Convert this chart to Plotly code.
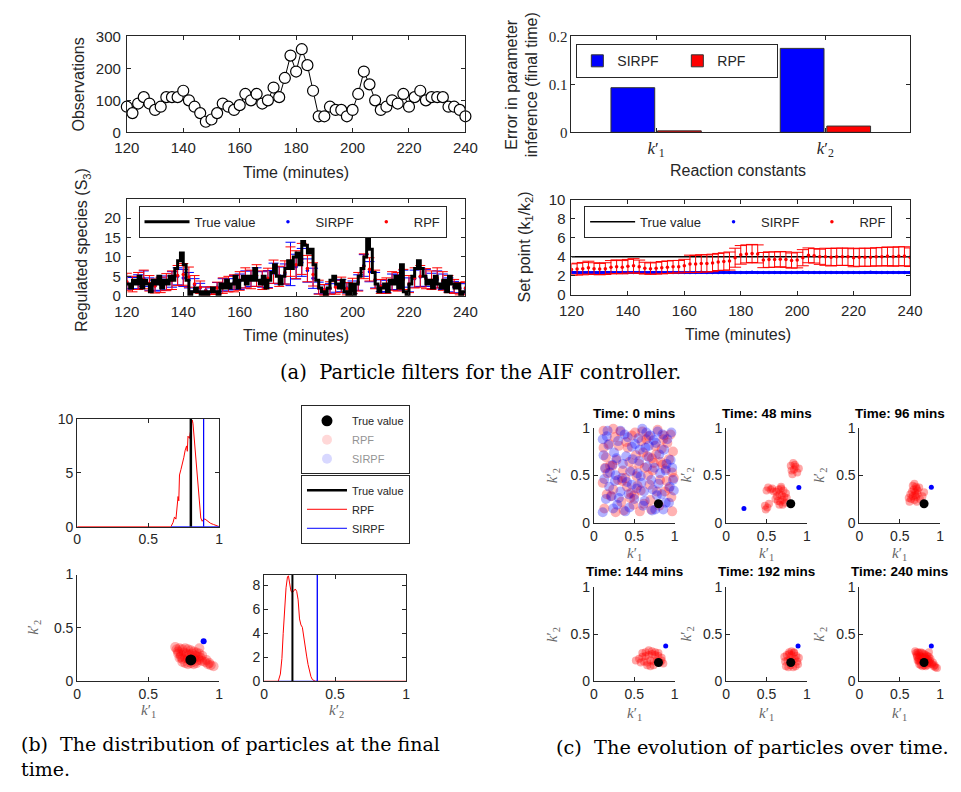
import plotly.graph_objects as go

W, H = 961, 792
AX = '#262626'
SANS = 'Liberation Sans, Arial, sans-serif'
SERIF = 'Liberation Serif, Times New Roman, serif'
CAPF = 'DejaVu Serif, serif'
BLUE = '#0000ff'
RED = '#ff0000'

# ---------------- (a) observations ----------------
obs_time = list(range(120, 241, 2))
observations = [80, 60, 90, 110, 90, 70, 80, 110, 110, 110,
                130, 100, 80, 60, 33, 40, 60, 90, 80, 70,
                85, 120, 100, 120, 90, 100, 140, 110, 170, 240,
                190, 260, 210, 130, 50, 50, 80, 70, 70, 50,
                70, 120, 190, 150, 100, 70, 80, 100, 90, 120,
                80, 110, 130, 100, 110, 110, 110, 80, 80, 70,
                50]

# ---------------- (a) parameter error bars ----------------
param_pos = [1, 2]
param_labels = ['<i>k</i>′<sub>1</sub>', '<i>k</i>′<sub>2</sub>']
err_sirpf = [0.093, 0.175]
err_rpf = [0.003, 0.013]

# ---------------- (a) regulated species ----------------
true_time = list(range(120, 241))
true_S3 = [3, 2, 4, 3, 5, 2, 4, 3, 1, 4,
           3, 5, 2, 4, 3, 5, 4, 7, 9, 11,
           8, 4, 0, 1, 2, 1, 0, 1, 0, 1,
           2, 1, 0, 3, 2, 4, 2, 3, 5, 2,
           4, 5, 3, 5, 4, 7, 4, 3, 5, 2,
           4, 6, 8, 5, 3, 5, 7, 9, 7, 10,
           11, 8, 14, 13, 11, 12, 8, 4, 2, 1,
           0, 2, 4, 5, 3, 2, 4, 1, 0, 3,
           0, 3, 5, 7, 10, 15, 12, 6, 3, 1,
           2, 3, 1, 4, 3, 5, 2, 8, 1, 0,
           3, 5, 7, 9, 7, 5, 3, 4, 2, 5,
           3, 2, 4, 1, 5, 3, 2, 3, 0, 1,
           1]
rpf_S3_mean = [3.6, 3.0, 3.8, 4.2, 3.2, 2.5, 2.8, 3.5, 4.0, 5.2,
               5.5, 4.8, 3.0, 2.2, 1.2, 1.3, 2.0, 2.6, 3.0, 3.2,
               3.8, 4.6, 4.2, 5.2, 4.0, 4.5, 6.2, 5.0, 6.0, 8.8,
               8.0, 9.5, 7.0, 5.5, 2.2, 1.5, 2.0, 2.2, 2.8, 1.8,
               2.5, 3.6, 7.6, 6.8, 4.2, 2.4, 2.6, 3.8, 3.6, 4.2,
               3.0, 4.6, 5.0, 4.4, 4.0, 4.6, 3.8, 3.0, 2.4, 1.8,
               2.0]
rpf_S3_err = [2.2, 2.0, 2.2, 2.4, 2.0, 1.8, 2.0, 2.2, 2.4, 2.6,
              2.8, 2.6, 2.2, 1.6, 1.0, 1.0, 1.5, 2.0, 2.0, 2.2,
              2.4, 2.6, 2.4, 2.8, 2.4, 2.6, 3.0, 2.6, 3.0, 3.8,
              3.6, 4.0, 3.4, 3.0, 1.8, 1.4, 1.6, 1.8, 2.0, 1.6,
              2.0, 2.4, 3.2, 3.0, 2.4, 1.8, 2.0, 2.4, 2.4, 2.6,
              2.2, 2.6, 2.8, 2.6, 2.4, 2.6, 2.4, 2.2, 1.8, 1.6,
              1.6]
sirpf_S3_mean = [3.4, 3.2, 3.6, 4.4, 3.0, 2.6, 3.0, 3.3, 4.2, 5.0,
                 4.6, 4.0, 2.8, 2.0, 1.4, 1.2, 2.2, 2.8, 2.8, 3.4,
                 3.6, 4.2, 4.4, 4.8, 4.2, 4.3, 5.8, 5.2, 5.6, 8.2,
                 7.5, 8.6, 6.5, 4.5, 2.0, 1.6, 1.8, 2.4, 2.6, 2.0,
                 2.2, 3.4, 7.8, 6.2, 4.0, 2.6, 2.4, 3.6, 3.4, 4.4,
                 2.8, 4.4, 4.8, 4.6, 3.8, 4.2, 3.6, 2.8, 2.2, 2.0,
                 1.8]
sirpf_S3_err = [1.6, 1.5, 1.8, 2.0, 1.6, 1.4, 1.6, 1.8, 2.0, 2.2,
                2.2, 2.0, 1.6, 1.2, 0.9, 0.8, 1.2, 1.6, 1.6, 1.8,
                2.0, 2.2, 2.0, 2.4, 2.0, 2.2, 2.6, 2.2, 2.6, 5.6,
                3.2, 3.6, 3.0, 2.6, 1.5, 1.2, 1.3, 1.5, 1.6, 1.3,
                1.6, 2.0, 2.8, 2.6, 2.0, 1.5, 1.6, 2.0, 2.0, 2.2,
                1.8, 2.2, 2.4, 2.2, 2.0, 2.2, 2.0, 1.8, 1.5, 1.3,
                1.3]

# ---------------- (a) set point ----------------
true_setpoint = 4.0
rpf_sp_mean = [2.65, 2.70, 2.75, 2.85, 2.75, 2.70, 2.75, 2.90, 2.95, 2.90,
               3.00, 3.05, 2.95, 2.80, 2.75, 2.80, 2.85, 2.90, 2.95, 2.95,
               3.05, 3.25, 3.25, 3.30, 3.30, 3.35, 3.45, 3.50, 3.55, 3.90,
               4.20, 4.30, 4.35, 4.30, 3.65, 3.70, 3.70, 3.75, 3.70, 3.60,
               3.65, 3.90, 4.15, 4.10, 4.00, 4.00, 3.95, 4.00, 4.00, 4.00,
               3.90, 3.95, 3.95, 3.95, 4.00, 4.00, 4.05, 4.00, 4.05, 4.05,
               3.95]
rpf_sp_err = [0.60, 0.62, 0.65, 0.68, 0.62, 0.60, 0.62, 0.70, 0.72, 0.70,
              0.72, 0.75, 0.70, 0.62, 0.60, 0.62, 0.65, 0.66, 0.66, 0.66,
              0.68, 0.92, 0.90, 0.92, 0.90, 0.92, 0.90, 0.92, 0.95, 1.00,
              0.98, 0.95, 0.95, 0.95, 0.80, 0.82, 0.80, 0.80, 0.82, 0.80,
              0.82, 0.85, 0.78, 0.76, 0.80, 0.90, 0.92, 0.92, 0.90, 0.92,
              0.95, 0.95, 0.95, 0.95, 0.95, 0.98, 0.98, 1.00, 1.00, 1.00,
              0.98]
sirpf_sp_mean = [2.36, 2.35, 2.35, 2.34, 2.35, 2.35, 2.36, 2.35, 2.35, 2.35,
                 2.35, 2.34, 2.35, 2.35, 2.35, 2.36, 2.35, 2.35, 2.34, 2.35,
                 2.35, 2.35, 2.35, 2.36, 2.35, 2.35, 2.35, 2.34, 2.35, 2.35,
                 2.35, 2.35, 2.36, 2.35, 2.35, 2.35, 2.35, 2.34, 2.35, 2.35,
                 2.35, 2.36, 2.35, 2.35, 2.35, 2.35, 2.34, 2.35, 2.35, 2.35,
                 2.35, 2.35, 2.35, 2.36, 2.35, 2.35, 2.35, 2.35, 2.34, 2.35,
                 2.35]
sirpf_sp_err = [0.06, 0.05, 0.05, 0.06, 0.05, 0.05, 0.06, 0.05, 0.05, 0.05,
                0.05, 0.06, 0.05, 0.05, 0.05, 0.06, 0.05, 0.05, 0.06, 0.05,
                0.05, 0.05, 0.05, 0.06, 0.05, 0.05, 0.05, 0.06, 0.05, 0.05,
                0.05, 0.05, 0.06, 0.05, 0.05, 0.05, 0.05, 0.06, 0.05, 0.05,
                0.05, 0.06, 0.05, 0.05, 0.05, 0.05, 0.06, 0.05, 0.05, 0.05,
                0.05, 0.05, 0.05, 0.06, 0.05, 0.05, 0.05, 0.05, 0.06, 0.05,
                0.05]

# ---------------- (b) final-time distributions ----------------
k1_true, k2_true = 0.8, 0.2
k1_sirpf, k2_sirpf = 0.89, 0.375
hist_k1_top, hist_k2_top = 10, 8.9

rpf_k1_x = [0, 0.66, 0.675, 0.685, 0.695, 0.70, 0.71, 0.715, 0.72, 0.73, 0.74, 0.75, 0.76,
            0.77, 0.775, 0.78, 0.79, 0.80, 0.81, 0.815, 0.82, 0.83, 0.84, 0.85, 0.86, 0.87,
            0.88, 0.885, 0.89, 0.90, 0.92, 0.94, 0.96, 0.98, 1.0]
rpf_k1_d = [0, 0, 0.4, 0.9, 0.7, 1.5, 2.8, 2.4, 4.8, 5.3, 5.8, 6.4, 7.1,
            7.5, 7.0, 8.4, 8.2, 9.2, 9.9, 9.6, 8.8, 7.2, 5.2, 3.2, 1.8, 0.8,
            0.5, 0.6, 0.7, 0.7, 0.5, 0.3, 0.2, 0.1, 0]
sirpf_k1_x = [0.66, 0.89, 0.89, 0.89, 1.0]
sirpf_k1_d = [0, 0, 60, 0, 0]

rpf_k2_x = [0, 0.10, 0.115, 0.126, 0.135, 0.144, 0.155, 0.165, 0.172, 0.18, 0.19, 0.20, 0.21,
            0.22, 0.23, 0.24, 0.25, 0.26, 0.27, 0.28, 0.29, 0.30, 0.31, 0.32, 0.33, 0.34, 0.36, 1.0]
rpf_k2_d = [0, 0, 0.6, 1.9, 4.0, 6.0, 7.8, 8.7, 8.8, 8.2, 7.5, 7.4, 7.6,
            7.7, 7.5, 6.8, 5.2, 4.7, 4.5, 3.6, 2.8, 2.1, 1.4, 0.8, 0.4, 0.15, 0, 0]
sirpf_k2_x = [0.10, 0.375, 0.375, 0.375]
sirpf_k2_d = [0, 0, 60, 0]

final_k1 = [0.70, 0.72, 0.74, 0.76, 0.78, 0.80, 0.82, 0.84, 0.86,
            0.71, 0.73, 0.75, 0.77, 0.79, 0.81, 0.83, 0.85, 0.87,
            0.72, 0.74, 0.76, 0.78, 0.80, 0.82, 0.84, 0.86, 0.88,
            0.74, 0.76, 0.78, 0.80, 0.82, 0.84, 0.69, 0.71, 0.73,
            0.90, 0.92, 0.94, 0.96, 0.93, 0.91, 0.88, 0.86]
final_k2 = [0.30, 0.31, 0.30, 0.31, 0.30, 0.29, 0.28, 0.27, 0.26,
            0.26, 0.25, 0.27, 0.26, 0.25, 0.26, 0.24, 0.23, 0.22,
            0.22, 0.21, 0.22, 0.21, 0.20, 0.21, 0.19, 0.20, 0.19,
            0.18, 0.17, 0.16, 0.17, 0.16, 0.17, 0.32, 0.28, 0.23,
            0.18, 0.16, 0.15, 0.14, 0.17, 0.20, 0.24, 0.31]

# ---------------- (c) evolution ----------------
snap_titles = ['Time: 0 mins', 'Time: 48 mins', 'Time: 96 mins',
               'Time: 144 mins', 'Time: 192 mins', 'Time: 240 mins']
rpf0_k1 = [0.13, 0.34, 0.57, 0.81, 0.96, 0.24, 0.46, 0.69, 0.90, 0.17, 0.39, 0.63, 0.85, 0.28,
           0.52, 0.74, 0.98, 0.19, 0.42, 0.65, 0.87, 0.33, 0.59, 0.79, 0.11, 0.48, 0.70, 0.93,
           0.26, 0.54, 0.76, 0.15, 0.37, 0.61, 0.89, 0.21, 0.44, 0.67, 0.95, 0.30, 0.51, 0.78,
           0.12, 0.40, 0.62, 0.84, 0.23, 0.49, 0.72, 0.97,
           0.16, 0.27, 0.45, 0.58, 0.71, 0.88, 0.99, 0.20, 0.36, 0.53, 0.66, 0.82, 0.93, 0.12,
           0.31, 0.47, 0.60, 0.77, 0.91, 0.24, 0.41, 0.56, 0.73, 0.86, 0.14, 0.35, 0.50, 0.68,
           0.83, 0.97]
rpf0_k2 = [0.15, 0.22, 0.12, 0.18, 0.27, 0.35, 0.31, 0.40, 0.44, 0.52, 0.47, 0.58, 0.61, 0.66,
           0.71, 0.63, 0.75, 0.83, 0.79, 0.88, 0.92, 0.96, 0.86, 0.98, 0.42, 0.55, 0.24, 0.36,
           0.90, 0.39, 0.81, 0.69, 0.13, 0.74, 0.57, 0.28, 0.64, 0.50, 0.93, 0.45, 0.95, 0.33,
           0.97, 0.85, 0.20, 0.78, 0.60, 0.19, 0.68, 0.53,
           0.30, 0.11, 0.26, 0.34, 0.14, 0.33, 0.47, 0.60, 0.55, 0.49, 0.70, 0.45, 0.67, 0.79,
           0.81, 0.92, 0.96, 0.72, 0.84, 0.99, 0.38, 0.62, 0.55, 0.88, 0.58, 0.44, 0.29, 0.91,
           0.64, 0.12]
sirpf0_k1 = [0.11, 0.29, 0.50, 0.72, 0.93, 0.19, 0.41, 0.62, 0.84, 0.14, 0.36, 0.58, 0.80, 0.98,
             0.25, 0.47, 0.68, 0.89, 0.16, 0.33, 0.55, 0.77, 0.95, 0.22, 0.44, 0.66, 0.87, 0.12,
             0.38, 0.60, 0.82, 0.27, 0.53, 0.74, 0.96, 0.18, 0.40, 0.63, 0.86, 0.31, 0.56, 0.79,
             0.13, 0.45, 0.70, 0.91, 0.24, 0.51, 0.75, 0.99, 0.35, 0.64,
             0.20, 0.33, 0.47, 0.61, 0.78, 0.90, 0.15, 0.28, 0.43, 0.57, 0.71, 0.85, 0.97, 0.11,
             0.26, 0.39, 0.54, 0.68, 0.81, 0.94, 0.17, 0.30, 0.48, 0.65, 0.76, 0.89, 0.23, 0.42,
             0.59, 0.73]
sirpf0_k2 = [0.11, 0.19, 0.25, 0.13, 0.21, 0.38, 0.43, 0.33, 0.30, 0.57, 0.62, 0.49, 0.41, 0.45,
             0.74, 0.80, 0.69, 0.55, 0.91, 0.97, 0.89, 0.84, 0.66, 0.28, 0.16, 0.59, 0.77, 0.71,
             0.93, 0.99, 0.52, 0.50, 0.36, 0.87, 0.95, 0.82, 0.70, 0.23, 0.14, 0.26, 0.65, 0.96,
             0.46, 0.54, 0.92, 0.88, 0.15, 0.83, 0.58, 0.34, 0.47, 0.79,
             0.53, 0.33, 0.40, 0.18, 0.29, 0.62, 0.25, 0.68, 0.30, 0.77, 0.45, 0.93, 0.58, 0.88,
             0.44, 0.12, 0.52, 0.81, 0.72, 0.38, 0.97, 0.86, 0.67, 0.95, 0.14, 0.21, 0.61, 0.90,
             0.42, 0.35]
rpf48_k1 = [0.62, 0.65, 0.68, 0.71, 0.74, 0.63, 0.66, 0.69, 0.72, 0.75, 0.64, 0.67, 0.70, 0.73,
            0.61, 0.66, 0.70, 0.68, 0.52, 0.55, 0.50, 0.57, 0.59, 0.48, 0.51, 0.53, 0.49,
            0.80, 0.83, 0.86, 0.81, 0.84, 0.88, 0.82, 0.85, 0.90]
rpf48_k2 = [0.33, 0.35, 0.36, 0.34, 0.31, 0.28, 0.30, 0.29, 0.27, 0.26, 0.23, 0.22, 0.24, 0.21,
            0.25, 0.19, 0.19, 0.38, 0.37, 0.35, 0.34, 0.36, 0.33, 0.18, 0.16, 0.20, 0.14,
            0.60, 0.63, 0.59, 0.55, 0.56, 0.53, 0.51, 0.61, 0.57]
sirpf48_k1 = [0.22, 0.90]
sirpf48_k2 = [0.15, 0.37]
rpf96_k1 = [0.62, 0.64, 0.66, 0.68, 0.70, 0.72, 0.63, 0.65, 0.67, 0.69, 0.71, 0.66, 0.68, 0.70,
            0.72, 0.74, 0.69, 0.71, 0.80, 0.78, 0.61, 0.75]
rpf96_k2 = [0.22, 0.25, 0.28, 0.24, 0.27, 0.30, 0.30, 0.33, 0.35, 0.32, 0.36, 0.39, 0.41, 0.38,
            0.34, 0.37, 0.29, 0.22, 0.32, 0.28, 0.26, 0.25]
rpf144_k1 = [0.52, 0.56, 0.60, 0.64, 0.68, 0.72, 0.76, 0.80, 0.84, 0.58, 0.62, 0.66, 0.70, 0.74,
             0.78, 0.82, 0.86, 0.60, 0.64, 0.68, 0.72, 0.76, 0.80, 0.84, 0.66, 0.70, 0.74]
rpf144_k2 = [0.22, 0.24, 0.26, 0.27, 0.28, 0.29, 0.28, 0.27, 0.25, 0.20, 0.21, 0.20, 0.22, 0.21,
             0.22, 0.20, 0.19, 0.30, 0.31, 0.33, 0.32, 0.31, 0.30, 0.22, 0.17, 0.16, 0.17]
rpf192_k1 = [0.72, 0.75, 0.78, 0.81, 0.84, 0.87, 0.73, 0.76, 0.79, 0.82, 0.85, 0.88, 0.74, 0.77,
             0.80, 0.83, 0.86, 0.89, 0.78, 0.81, 0.84, 0.90]
rpf192_k2 = [0.26, 0.28, 0.29, 0.28, 0.30, 0.27, 0.21, 0.22, 0.23, 0.22, 0.24, 0.21, 0.16, 0.15,
             0.17, 0.15, 0.16, 0.18, 0.31, 0.32, 0.31, 0.25]

# ================= figure =================
fig = go.Figure()
layout = dict(width=W, height=H, margin=dict(l=0, r=0, t=0, b=0),
              paper_bgcolor='white', plot_bgcolor='white',
              font=dict(family=SANS, color=AX, size=14),
              barmode='group', bargap=0.45, bargroupgap=0.06,
              annotations=[])


def nm(n):
    return '' if n == 1 else str(n)


def add_axes(n, px, py, xr, yr, xtv, ytv, xtt=None, ytt=None, box=True,
             fs=15, xfont=None, yfont=None, standoff=0):
    base = dict(showline=True, linecolor=AX, linewidth=1, ticks='inside', ticklen=4,
                tickcolor=AX, tickwidth=1, showgrid=False, zeroline=False,
                mirror='ticks' if box else False, fixedrange=True,
                ticklabelstandoff=standoff)
    layout['xaxis' + nm(n)] = dict(base, domain=[px[0] / W, px[1] / W], anchor='y' + nm(n),
                                   range=xr, tickvals=xtv, ticktext=xtt,
                                   tickfont=xfont or dict(family=SANS, size=fs, color=AX))
    layout['yaxis' + nm(n)] = dict(base, domain=[1 - py[1] / H, 1 - py[0] / H], anchor='x' + nm(n),
                                   range=yr, tickvals=ytv, ticktext=ytt,
                                   tickfont=yfont or dict(family=SANS, size=fs, color=AX))


def ann(text, x, y, size=16, angle=0, family=SANS, color=AX, xanchor='center',
        yanchor='middle', align='center', bold=False):
    layout['annotations'].append(dict(
        text=text, x=x / W, y=1 - y / H, xref='paper', yref='paper', showarrow=False,
        xanchor=xanchor, yanchor=yanchor, textangle=angle, align=align,
        font=dict(family=family, size=size, color=color,
                  weight='bold' if bold else 'normal')))


def ref(n):
    return dict(xaxis='x' + nm(n), yaxis='y' + nm(n))


# ---- 1: observations ----
add_axes(1, (117, 465), (28, 126), [120, 240], [0, 300],
         list(range(120, 241, 20)), [0, 100, 200, 300], standoff=2)
fig.add_trace(go.Scatter(x=obs_time, y=observations, mode='lines+markers',
                         line=dict(color='black', width=1),
                         marker=dict(symbol='circle', size=11, color='white',
                                     line=dict(color='black', width=1.2)),
                         cliponaxis=False, showlegend=False, **ref(1)))
ann('Observations', 67, 77, angle=-90)
ann('Time (minutes)', 291, 167)

# ---- 2: parameter error bars ----
add_axes(2, (574, 922), (28, 126), [0.5, 2.5], [0, 0.2], param_pos, [0, 0.1, 0.2],
         xtt=param_labels, ytt=['0', '0.1', '0.2'],
         xfont=dict(family=SERIF, size=17, color=AX), yfont=dict(family=SERIF, size=15, color=AX))
fig.add_trace(go.Bar(x=param_pos, y=err_sirpf, name='SIRPF', marker=dict(color=BLUE, line=dict(color='#333', width=1)),
                     legend='legend', **ref(2)))
fig.add_trace(go.Bar(x=param_pos, y=err_rpf, name='RPF', marker=dict(color=RED, line=dict(color='#333', width=1)),
                     legend='legend', **ref(2)))
ann('Error in parameter<br>inference (final time)', 523, 77, angle=-90)
ann('Reaction constants', 745, 165)

# ---- 3: regulated species ----
add_axes(3, (117, 465), (194, 293), [120, 240], [0, 25],
         list(range(120, 241, 20)), [0, 5, 10, 15, 20], standoff=2)
fig.add_trace(go.Scatter(x=obs_time, y=sirpf_S3_mean, mode='markers', name='SIRPF',
                         marker=dict(color=BLUE, size=3.5),
                         error_y=dict(type='data', array=sirpf_S3_err, color=BLUE, thickness=1, width=5),
                         legend='legend2', legendrank=2, **ref(3)))
fig.add_trace(go.Scatter(x=obs_time, y=rpf_S3_mean, mode='markers', name='RPF',
                         marker=dict(color=RED, size=3.5),
                         error_y=dict(type='data', array=rpf_S3_err, color=RED, thickness=1, width=5),
                         legend='legend2', legendrank=3, **ref(3)))
fig.add_trace(go.Scatter(x=true_time, y=true_S3, mode='lines', name='True value', line_shape='hv',
                         line=dict(color='black', width=3), legend='legend2', legendrank=1, **ref(3)))
ann('Regulated species (S<sub>3</sub>)', 72, 246, angle=-90)
ann('Time (minutes)', 291, 334)

# ---- 4: set point ----
add_axes(4, (574, 922), (195, 292), [120, 240], [0, 10],
         list(range(120, 241, 20)), [0, 2, 4, 6, 8, 10], standoff=2)
fig.add_trace(go.Scatter(x=[obs_time[0], obs_time[-1]], y=[true_setpoint, true_setpoint], mode='lines',
                         name='True value', line=dict(color='black', width=1.5),
                         legend='legend3', legendrank=1, **ref(4)))
fig.add_trace(go.Scatter(x=obs_time, y=sirpf_sp_mean, mode='markers', name='SIRPF',
                         marker=dict(color=BLUE, size=3.5),
                         error_y=dict(type='data', array=sirpf_sp_err, color=BLUE, thickness=1.5, width=6),
                         legend='legend3', legendrank=2, **ref(4)))
fig.add_trace(go.Scatter(x=obs_time, y=rpf_sp_mean, mode='markers', name='RPF',
                         marker=dict(color=RED, size=3.5),
                         error_y=dict(type='data', array=rpf_sp_err, color=RED, thickness=1, width=6),
                         legend='legend3', legendrank=3, **ref(4)))
ann('Set point (k<sub>1</sub>/k<sub>2</sub>)', 527, 243, angle=-90)
ann('Time (minutes)', 745, 333)

ann('(a)\u00a0\u00a0Particle filters for the AIF controller.', 480, 371, size=19.5, family=CAPF, color='black')

# ---- 5: histogram k1 ----
add_axes(5, (66, 212), (419, 529), [0, 1], [0, hist_k1_top], [0, 0.5, 1], [0, 5, 10],
         xtt=['0', '0.5', '1'], fs=14)
fig.add_trace(go.Scatter(x=rpf_k1_x, y=rpf_k1_d, mode='lines', name='RPF', line=dict(color=RED, width=1),
                         legend='legend5', legendrank=2, **ref(5)))
fig.add_trace(go.Scatter(x=sirpf_k1_x, y=sirpf_k1_d, mode='lines', name='SIRPF', line=dict(color=BLUE, width=1),
                         legend='legend5', legendrank=3, **ref(5)))
fig.add_trace(go.Scatter(x=[k1_true, k1_true], y=[0, hist_k1_top], mode='lines', name='True value',
                         line=dict(color='black', width=2.5), legend='legend5', legendrank=1, **ref(5)))

# ---- 6: scatter final ----
KLAB1 = '<i>k</i>′<sub>1</sub>'
KLAB2 = '<i>k</i>′<sub>2</sub>'
add_axes(6, (66, 212), (578, 687), [0, 1], [0, 1], [0, 0.5, 1], [0, 0.5, 1],
         xtt=['0', '0.5', '1'], ytt=['0', '0.5', '1'], box=False, fs=14)
fig.add_trace(go.Scatter(x=final_k1, y=final_k2, mode='markers', showlegend=False,
                         marker=dict(color='rgba(255,0,0,0.3)', size=10, line=dict(width=0)),
                         cliponaxis=False, **ref(6)))
fig.add_trace(go.Scatter(x=[k1_sirpf], y=[k2_sirpf], mode='markers', showlegend=False,
                         marker=dict(color=BLUE, size=6), cliponaxis=False, **ref(6)))
fig.add_trace(go.Scatter(x=[k1_true], y=[k2_true], mode='markers', name='True value',
                         marker=dict(color='black', size=11), cliponaxis=False,
                         legend='legend4', legendrank=1, **ref(6)))
fig.add_trace(go.Scatter(x=final_k1, y=final_k2, mode='markers', name='RPF', visible='legendonly',
                         marker=dict(color='rgba(255,0,0,0.3)', size=10), legend='legend4', legendrank=2, **ref(6)))
fig.add_trace(go.Scatter(x=[k1_sirpf], y=[k2_sirpf], mode='markers', name='SIRPF', visible='legendonly',
                         marker=dict(color='rgba(0,0,255,0.3)', size=10), legend='legend4', legendrank=3, **ref(6)))
ann(KLAB2, 22, 632, angle=-90, family=SERIF, size=15, color='#666')
ann(KLAB1, 139, 717, family=SERIF, size=15, color='#666')

# ---- 7: histogram k2 ----
add_axes(7, (258, 404), (578, 687), [0, 1], [0, hist_k2_top], [0, 0.5, 1], [0, 2, 4, 6, 8],
         xtt=['0', '0.5', '1'], fs=14)
fig.add_trace(go.Scatter(x=rpf_k2_x, y=rpf_k2_d, mode='lines', showlegend=False,
                         line=dict(color=RED, width=1), **ref(7)))
fig.add_trace(go.Scatter(x=sirpf_k2_x, y=sirpf_k2_d, mode='lines', showlegend=False,
                         line=dict(color=BLUE, width=1), **ref(7)))
fig.add_trace(go.Scatter(x=[k2_true, k2_true], y=[0, hist_k2_top], mode='lines', showlegend=False,
                         line=dict(color='black', width=2), **ref(7)))
ann(KLAB2, 332, 717, family=SERIF, size=15, color='#666')

ann('(b)\u00a0\u00a0The distribution of particles at the final<br>time.', 6, 738, size=19, family=CAPF,
    color='black', xanchor='left', yanchor='top', align='left')

# ---- 8-13: evolution ----
cols = [(597, 680), (733, 816), (870, 953)]
rows = [(428, 525), (591, 687)]
ytitle_x = [555, 693, 830]
title_y = [413, 575]
xtitle_y = [557, 720]
snap_rpf = [(rpf48_k1, rpf48_k2), (rpf96_k1, rpf96_k2),
            (rpf144_k1, rpf144_k2), (rpf192_k1, rpf192_k2), (final_k1, final_k2)]
snap_sirpf = [(sirpf48_k1, sirpf48_k2), ([k1_sirpf], [k2_sirpf]), ([k1_sirpf], [k2_sirpf]),
              ([k1_sirpf], [k2_sirpf]), ([k1_sirpf], [k2_sirpf])]
for i in range(6):
    n = 8 + i
    r, c = divmod(i, 3)
    add_axes(n, cols[c], rows[r], [0, 1], [0, 1], [0, 0.5, 1], [0, 0.5, 1],
             xtt=['0', '0.5', '1'], ytt=['0', '0.5', '1'], box=False, fs=14)
    if i == 0:
        fig.add_trace(go.Scatter(x=rpf0_k1, y=rpf0_k2, mode='markers', showlegend=False,
                                 marker=dict(color='rgba(255,0,0,0.3)', size=10, line=dict(width=0)),
                                 cliponaxis=False, **ref(n)))
        fig.add_trace(go.Scatter(x=sirpf0_k1, y=sirpf0_k2, mode='markers', showlegend=False,
                                 marker=dict(color='rgba(0,0,255,0.3)', size=10, line=dict(width=0)),
                                 cliponaxis=False, **ref(n)))
    else:
        rx, ry = snap_rpf[i - 1]
        sx, sy = snap_sirpf[i - 1]
        fig.add_trace(go.Scatter(x=rx, y=ry, mode='markers', showlegend=False,
                                 marker=dict(color='rgba(255,0,0,0.35)', size=8, line=dict(width=0)),
                                 cliponaxis=False, **ref(n)))
        fig.add_trace(go.Scatter(x=sx, y=sy, mode='markers', showlegend=False,
                                 marker=dict(color=BLUE, size=5), cliponaxis=False, **ref(n)))
    fig.add_trace(go.Scatter(x=[k1_true], y=[k2_true], mode='markers', showlegend=False,
                             marker=dict(color='black', size=9), cliponaxis=False, **ref(n)))
    cx = (cols[c][0] + cols[c][1]) / 2
    ann(snap_titles[i], cx, title_y[r], size=13.5, color='black', bold=True)
    ann(KLAB1, cx, xtitle_y[r], family=SERIF, size=15, color='#666')
    ann(KLAB2, ytitle_x[c], (rows[r][0] + rows[r][1]) / 2, angle=-90, family=SERIF, size=15, color='#666')

ann('(c)\u00a0\u00a0The evolution of particles over time.', 760, 755, size=19.3, family=CAPF, color='black')

# ---- legends ----
leg_common = dict(bgcolor='white', bordercolor=AX, borderwidth=1, xanchor='left', yanchor='top')
layout['legend'] = dict(leg_common, x=579 / W, y=1 - 36 / H, orientation='h',
                        font=dict(family=SANS, size=14, color=AX), entrywidth=55, itemwidth=30)
layout['legend2'] = dict(leg_common, x=129 / W, y=1 - 201 / H, orientation='h',
                         font=dict(family=SANS, size=13, color=AX), itemwidth=45)
layout['legend3'] = dict(leg_common, x=587 / W, y=1 - 201 / H, orientation='h',
                         font=dict(family=SANS, size=13, color=AX), itemwidth=45)
layout['legend4'] = dict(leg_common, x=296 / W, y=1 - 405 / H, orientation='v',
                         font=dict(family=SANS, size=11, color=AX), itemwidth=40)
layout['legend5'] = dict(leg_common, x=296 / W, y=1 - 476 / H, orientation='v',
                         font=dict(family=SANS, size=11, color=AX), itemwidth=40)

fig.update_layout(**layout)
fig.write_html('out.html', config={'displayModeBar': False},
               post_script="document.body.style.margin='0';document.body.style.overflow='hidden';")
